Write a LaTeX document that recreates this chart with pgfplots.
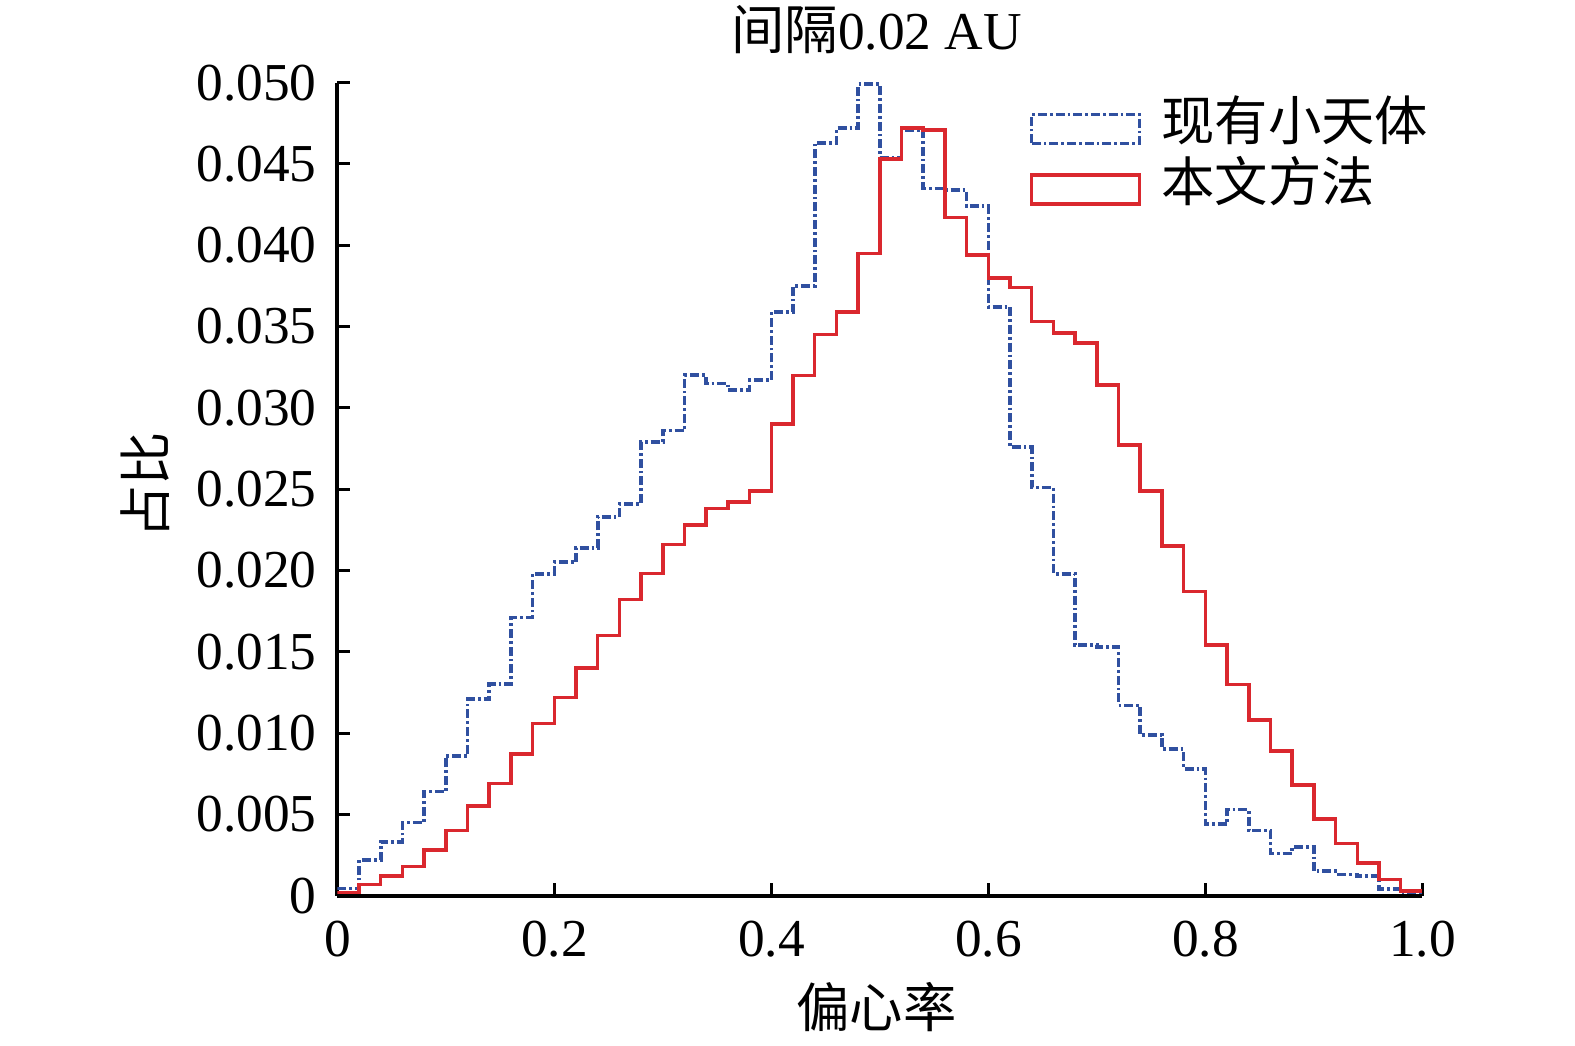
\documentclass[border=0pt]{standalone}
\usepackage{pgfplots}
\pgfplotsset{compat=1.18}
\usepackage{fontspec}
\setmainfont{Liberation Serif}
\newfontfamily\cjk{Noto Sans CJK SC}
\definecolor{myblue}{RGB}{48,80,160}
\definecolor{myred}{RGB}{218,40,46}
\newcommand{\fs}{\fontsize{16}{19}\selectfont}
\pgfplotsset{every axis title shift=0pt}
\begin{document}
\begin{tikzpicture}
\begin{axis}[
  name=ax,
  scale only axis,
  width=325.5pt, height=243.9pt,
  xmin=0, xmax=1, ymin=0, ymax=0.05,
  scaled y ticks=false, scaled x ticks=false,
  axis x line*=bottom, axis y line*=left,
  axis line style={-, line width=1.2pt, black},
  tick align=inside,
  major tick length=3.9pt,
  every tick/.style={black, line width=0.9pt},
  xtick={0,0.2,0.4,0.6,0.8,1},
  xticklabels={0,0.2,0.4,0.6,0.8,1.0},
  ytick={0,0.005,0.01,0.015,0.02,0.025,0.03,0.035,0.04,0.045,0.05},
  yticklabels={0,0.005,0.010,0.015,0.020,0.025,0.030,0.035,0.040,0.045,0.050},
  xticklabel style={font=\fs, inner sep=0pt, anchor=north, yshift=-7.3pt},
  yticklabel style={font=\fs, inner sep=0pt, anchor=east, xshift=-6.0pt},
  title={{\cjk 间隔}0.02 AU},
  title style={font=\fs, at={(axis description cs:0.497,1.0648)}, anchor=center, inner sep=0pt},
  xlabel={\cjk 偏心率},
  xlabel style={font=\fs, at={(axis description cs:0.497,-0.137)}, anchor=center, inner sep=0pt},
  ylabel={\cjk 占比},
  ylabel style={font=\fs, at={(axis description cs:-0.1772,0.505)}, anchor=center, inner sep=0pt},
  legend cell align=left,
  legend style={
    at={(axis description cs:0.6375,0.985)}, anchor=north west,
    draw=none, fill=none, inner sep=0pt, row sep=3.2pt,
    font=\fs\cjk,
    nodes={inner sep=0pt},
    /tikz/every odd column/.append style={column sep=6pt},
  },
  legend image code/.code={\draw[#1] (0pt,-6.9pt) rectangle (32.4pt,1.8pt);},
]
\addplot[const plot mark left, myblue, line width=1.1pt,
  dash pattern=on 2.7pt off 0.9pt on 0.8pt off 0.9pt] coordinates {
(0.00,0.00045)(0.02,0.0022)(0.04,0.0033)(0.06,0.0045)(0.08,0.0064)
(0.10,0.0086)(0.12,0.0121)(0.14,0.0130)(0.16,0.0171)(0.18,0.0198)
(0.20,0.0205)(0.22,0.0214)(0.24,0.0233)(0.26,0.0241)(0.28,0.0279)
(0.30,0.0286)(0.32,0.0320)(0.34,0.0315)(0.36,0.0311)(0.38,0.0317)
(0.40,0.0359)(0.42,0.0375)(0.44,0.0463)(0.46,0.0472)(0.48,0.0499)
(0.50,0.0454)(0.52,0.0471)(0.54,0.0435)(0.56,0.0434)(0.58,0.0424)
(0.60,0.0362)(0.62,0.0276)(0.64,0.0251)(0.66,0.0198)(0.68,0.0154)
(0.70,0.0153)(0.72,0.0117)(0.74,0.0099)(0.76,0.0090)(0.78,0.0078)
(0.80,0.0044)(0.82,0.0053)(0.84,0.0040)(0.86,0.0026)(0.88,0.0030)
(0.90,0.0015)(0.92,0.0013)(0.94,0.0012)(0.96,0.0004)(0.98,0.0002)
(1.00,0.0002)};
\addlegendentry{现有小天体}
\addplot[const plot mark left, myred, line width=1.05pt] coordinates {
(0.00,0.0002)(0.02,0.0007)(0.04,0.0012)(0.06,0.0018)(0.08,0.0028)
(0.10,0.0040)(0.12,0.0055)(0.14,0.0069)(0.16,0.0087)(0.18,0.0106)
(0.20,0.0122)(0.22,0.0140)(0.24,0.0160)(0.26,0.0182)(0.28,0.0198)
(0.30,0.0216)(0.32,0.0228)(0.34,0.0238)(0.36,0.0242)(0.38,0.0249)
(0.40,0.0290)(0.42,0.0320)(0.44,0.0345)(0.46,0.0359)(0.48,0.0395)
(0.50,0.0453)(0.52,0.0472)(0.54,0.0471)(0.56,0.0417)(0.58,0.0394)
(0.60,0.0380)(0.62,0.0374)(0.64,0.0353)(0.66,0.0346)(0.68,0.0340)
(0.70,0.0314)(0.72,0.0277)(0.74,0.0249)(0.76,0.0215)(0.78,0.0187)
(0.80,0.0154)(0.82,0.0130)(0.84,0.0108)(0.86,0.0089)(0.88,0.0068)
(0.90,0.0047)(0.92,0.0032)(0.94,0.0020)(0.96,0.0010)(0.98,0.0003)
(1.00,0.0003)};
\addlegendentry{本文方法}
\end{axis}
\pgfresetboundingbox
\path[use as bounding box] ([xshift=-101.2pt,yshift=-45.1pt]ax.south west) rectangle ([xshift=45.8pt,yshift=24.8pt]ax.north east);
\end{tikzpicture}
\end{document}
